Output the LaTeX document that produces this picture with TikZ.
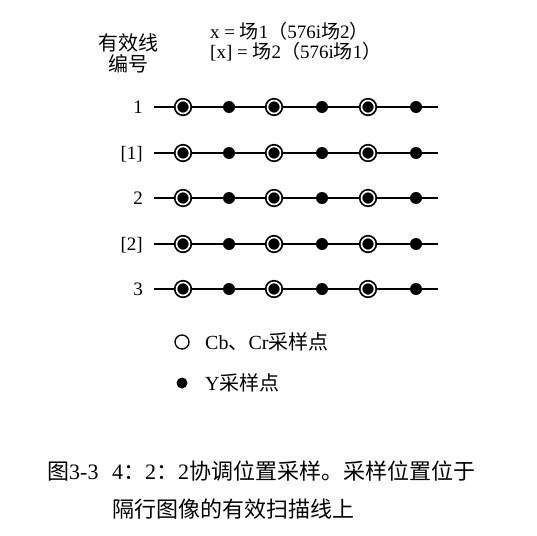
\documentclass[tikz,border=0pt]{standalone}
\usepackage{fontspec}
\setmainfont{Liberation Serif}
\newfontfamily\cjk{Noto Sans CJK SC}
\usetikzlibrary{positioning}

\begin{document}
\begin{tikzpicture}[x=1pt,y=-1pt]
	\tikzstyle{rowlabel} = [anchor=base east, inner sep=0pt, 
	font=\fontsize{19}{19}\selectfont]
	\tikzstyle{headtext} = [anchor=base west, inner sep=0pt, 
	font=\fontsize{19}{19}\selectfont]
	\tikzstyle{keytext} = [anchor=base west, inner sep=0pt, 
	font=\fontsize{20}{20}\selectfont]
	\tikzstyle{captext} = [anchor=base west, inner sep=0pt, 
	font=\fontsize{22}{22}\selectfont]
	\tikzstyle{chroma} = [circle, draw=black, fill=black, line width=1.8pt, 
	double=white, double distance=1.6pt, minimum size=13pt, inner sep=0pt]
	\tikzstyle{luma} = [circle, fill=black, minimum size=12pt, inner sep=0pt]
	\tikzstyle{scanline} = [line width=1.2pt]
	\useasboundingbox (0,0) rectangle (537,535);
	% header
	\node (linehead) [headtext, anchor=base, font=\fontsize{20}{20}\selectfont] 
	at (128,50) {\cjk 有效线};
	\node (numhead) [headtext, anchor=base, font=\fontsize{20}{20}\selectfont] 
	at (128,71) {\cjk 编号};
	\node (field1) [headtext] at (210,39) 
	{x = {\cjk 场}1{\cjk （}576i{\cjk 场}2{\cjk ）}};
	\node (field2) [headtext] at (210,58) 
	{[x] = {\cjk 场}2{\cjk （}576i{\cjk 场}1{\cjk ）}};
	% scan lines
	\foreach \r/\y/\t in {a/107/1, b/153/{[1]}, c/198/2, d/244/{[2]}, e/289/3} {
		\node (lab\r) [rowlabel] at (143,\y+6) {\t};
		\coordinate (start\r) at (154,\y);
		\coordinate (end\r) at (438,\y);
		\draw [scanline] (start\r) -- (end\r);
		\foreach \i/\x in {1/183, 2/274, 3/368}
			\node (cb\r\i) [chroma] at (\x,\y) {};
		\foreach \i/\x in {1/229, 2/322, 3/416}
			\node (y\r\i) [luma] at (\x,\y) {};
	}
	% legend
	\node (cbkey) [circle, draw=black, line width=1.3pt, minimum size=14pt, 
	inner sep=0pt] at (182,342) {};
	\node (ykey) [luma, minimum size=11pt] at (182,383) {};
	\node (cbtext) [keytext] at (205,349) {Cb{\cjk 、}Cr{\cjk 采样点}};
	\node (ytext) [keytext] at (205,390) {Y{\cjk 采样点}};
	% caption
	\node (capnum) [captext] at (47,479) {{\cjk 图}3-3};
	\node (capline1) [captext] at (112,479) 
	{4{\cjk ：}2{\cjk ：}2{\cjk 协调位置采样。采样位置位于}};
	\node (capline2) [captext] at (112,517) {\cjk 隔行图像的有效扫描线上};
\end{tikzpicture}
\end{document}
